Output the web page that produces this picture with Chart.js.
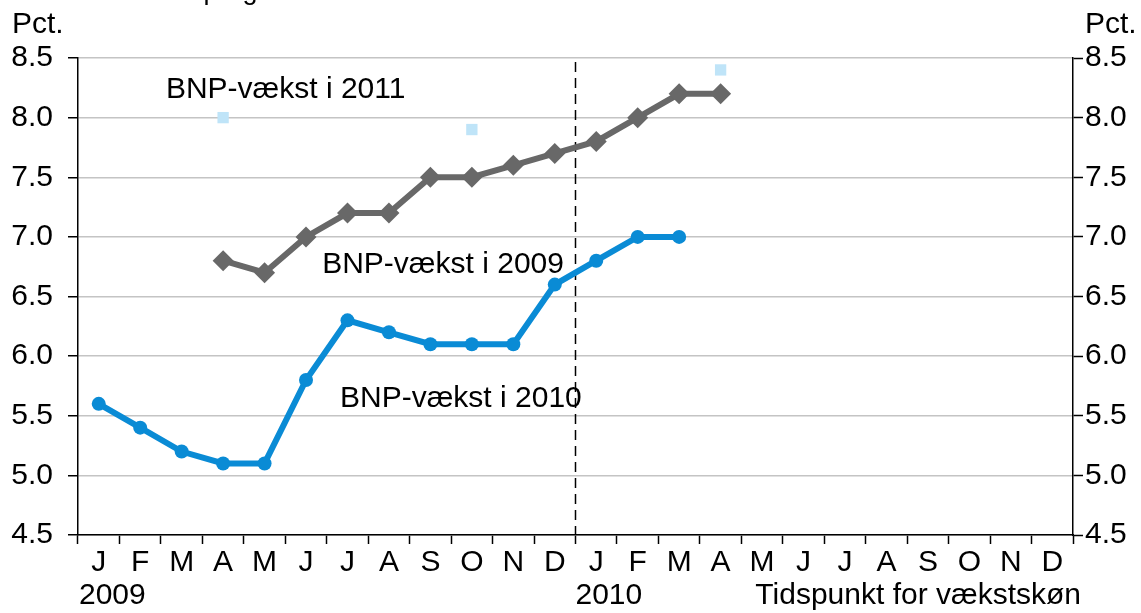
<!DOCTYPE html>
<html>
<head>
<meta charset="utf-8">
<script src="https://cdn.jsdelivr.net/npm/chart.js@4"></script>
<style>
  html, body { margin: 0; padding: 0; background: #fff; }
  #wrap { width: 1141px; height: 613px; }
</style>
</head>
<body>
<div id="wrap"><canvas id="chart" width="1141" height="613"></canvas></div>
<script>
// Months on the x axis (two years)
const months = ['J','F','M','A','M','J','J','A','S','O','N','D','J','F','M','A','M','J','J','A','S','O','N','D'];
const years = ['2009', '2010'];
const yTicks = [4.5, 5.0, 5.5, 6.0, 6.5, 7.0, 7.5, 8.0, 8.5];

// Growth forecasts, pct.
const vaekst2011 = [null, null, null, 6.8, 6.7, 7.0, 7.2, 7.2, 7.5, 7.5, 7.6, 7.7, 7.8, 8.0, 8.2, 8.2];
const vaekst2010 = [5.6, 5.4, 5.2, 5.1, 5.1, 5.8, 6.3, 6.2, 6.1, 6.1, 6.1, 6.6, 6.8, 7.0, 7.0];
const vaekst2009 = [null, null, null, 8.0, null, null, null, null, null, 7.9, null, null, null, null, null, 8.4];

const FONT = 'Arial, "Liberation Sans", sans-serif';
const SIZE = 30;

// dashed line between the years + free texts
const textPlugin = {
  id: 'texts',
  beforeDatasetsDraw(chart) {
    const { ctx, chartArea, scales } = chart;
    const sep = (scales.x.getPixelForValue(11) + scales.x.getPixelForValue(12)) / 2;
    ctx.save();
    ctx.strokeStyle = '#000';
    ctx.lineWidth = 1.5;
    ctx.setLineDash([10, 6]);
    ctx.beginPath();
    ctx.moveTo(sep, chartArea.top + 4);
    ctx.lineTo(sep, chartArea.bottom);
    ctx.stroke();
    ctx.restore();
  },
  afterDraw(chart) {
    const { ctx, scales } = chart;
    const x = scales.x, y = scales.y;
    const sep = (x.getPixelForValue(11) + x.getPixelForValue(12)) / 2;
    ctx.save();
    ctx.fillStyle = '#000';
    ctx.textBaseline = 'alphabetic';
    ctx.textAlign = 'left';
    ctx.font = '27px ' + FONT;
    ctx.fillText('Vækstprognoser', 127, -1);

    ctx.font = SIZE + 'px ' + FONT;
    ctx.fillText('Pct.', 12, 33);
    ctx.fillText('Pct.', 1085, 33);

    // year labels
    ctx.fillText(years[0], x.left + 1, 604);
    ctx.fillText(years[1], sep, 604);
    ctx.textAlign = 'right';
    ctx.fillText('Tidspunkt for vækstskøn', 1081, 604);

    // series labels
    ctx.textAlign = 'left';
    ctx.fillText('BNP-vækst i 2011', x.getPixelForValue(1.62), y.getPixelForValue(8.165));
    ctx.fillText('BNP-vækst i 2009', x.getPixelForValue(5.39), y.getPixelForValue(6.70));
    ctx.fillText('BNP-vækst i 2010', x.getPixelForValue(5.82), y.getPixelForValue(5.575));
    ctx.restore();
  }
};

const ctx = document.getElementById('chart').getContext('2d');
new Chart(ctx, {
  type: 'line',
  data: {
    labels: months,
    datasets: [
      {
        label: 'BNP-vækst i 2011',
        data: vaekst2011,
        borderColor: '#686868',
        backgroundColor: '#686868',
        borderWidth: 6,
        pointStyle: 'rectRot',
        pointRadius: 10.5,
        pointBorderWidth: 0,
        spanGaps: false
      },
      {
        label: 'BNP-vækst i 2010',
        data: vaekst2010,
        borderColor: '#0a8bd5',
        backgroundColor: '#0a8bd5',
        borderWidth: 6,
        pointStyle: 'circle',
        pointRadius: 7,
        pointBorderWidth: 0
      },
      {
        label: 'BNP-vækst i 2009',
        data: vaekst2009,
        showLine: false,
        borderColor: '#bfe4f8',
        backgroundColor: '#bfe4f8',
        pointStyle: 'rect',
        pointRadius: 8,
        pointBorderWidth: 0
      }
    ]
  },
  options: {
    responsive: false,
    animation: false,
    layout: { padding: { top: 58, bottom: 0, left: 0, right: 0 } },
    plugins: {
      legend: { display: false },
      tooltip: { enabled: false }
    },
    scales: {
      x: {
        type: 'category',
        offset: true,
        grid: {
          offset: true,
          drawOnChartArea: false,
          drawTicks: true,
          tickLength: 9,
          tickColor: '#000',
          tickWidth: 1.5
        },
        border: { color: '#000', width: 1.5 },
        ticks: {
          color: '#000',
          font: { family: FONT, size: SIZE },
          maxRotation: 0,
          autoSkip: false,
          padding: 1
        },
        afterFit(scale) { scale.height = 78; }
      },
      y: {
        position: 'left',
        min: 4.5,
        max: 8.5,
        afterBuildTicks(scale) { scale.ticks = yTicks.map(v => ({ value: v })); },
        grid: {
          color: '#c4c4c4',
          lineWidth: 1.5,
          tickLength: 10,
          tickColor: '#000',
          tickWidth: 1.5
        },
        border: { color: '#000', width: 1.5 },
        ticks: {
          color: '#000',
          font: { family: FONT, size: SIZE },
          padding: 15,
          callback: v => v.toFixed(1)
        },
        afterFit(scale) { scale.width = 78; }
      },
      y2: {
        position: 'right',
        min: 4.5,
        max: 8.5,
        afterBuildTicks(scale) { scale.ticks = yTicks.map(v => ({ value: v })); },
        grid: {
          drawOnChartArea: false,
          tickLength: 10,
          tickColor: '#000',
          tickWidth: 1.5
        },
        border: { color: '#000', width: 1.5 },
        ticks: {
          color: '#000',
          font: { family: FONT, size: SIZE },
          padding: 2,
          callback: v => v.toFixed(1)
        },
        afterFit(scale) { scale.width = 68; }
      }
    }
  },
  plugins: [textPlugin]
});
</script>
</body>
</html>
